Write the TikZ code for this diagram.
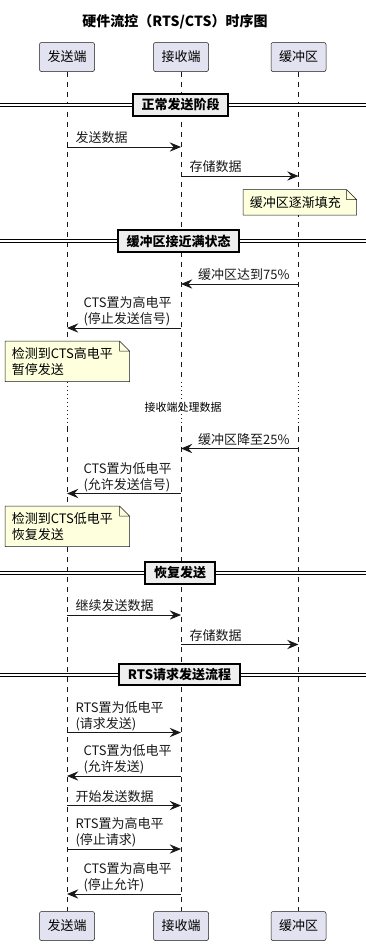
\documentclass[tikz,border=0pt]{standalone}
\usepackage{fontspec}
\setmainfont{Noto Sans CJK SC}
\usepackage{xcolor}
\usepackage{tikz}
\usetikzlibrary{arrows.meta,positioning,calc}

\definecolor{lineC}{HTML}{181818}
\definecolor{partC}{HTML}{E2E2F0}
\definecolor{noteC}{HTML}{FEFFDD}
\definecolor{sepC}{HTML}{EEEEEE}

\tikzset{
  part/.style={draw=lineC, fill=partC, line width=0.375pt, rounded corners=1.5pt,
    minimum width=41.25pt, minimum height=21.75pt, inner sep=0pt,
    font=\fontsize{9.75}{12}\selectfont},
  life/.style={lineC, line width=0.375pt, dash pattern=on 3.75pt off 3.75pt},
  lifedot/.style={lineC, line width=0.5pt, dash pattern=on 0.6pt off 2.4pt},
  msg/.style={lineC, line width=0.75pt, -{Stealth[length=8.5pt,width=7pt,inset=3pt]}},
  lbl/.style={anchor=south west, inner sep=0pt, align=left, text depth=3pt,
    font=\fontsize{9.75}{12}\selectfont},
  sepline/.style={draw=black, line width=0.75pt, double=white, double distance=1.5pt},
  sepbox/.style={draw=black, fill=sepC, line width=1.5pt, inner xsep=6.5pt,
    minimum height=15pt, font=\bfseries\fontsize{9.75}{12}\selectfont},
  notebox/.style={anchor=north west, fill=noteC, inner xsep=5pt, align=left,
    font=\fontsize{9.75}{12}\selectfont},
  notefold/.style={draw=lineC, line width=0.375pt},
}

\begin{document}
\begin{tikzpicture}[x=0.75pt,y=-0.75pt,>=Latex]
  \useasboundingbox (0,0) rectangle (366,946);

  % title and participants
  \node[font=\bfseries\fontsize{10.5}{12}\selectfont] (title) at (175,22) {硬件流控（RTS/CTS）时序图};
  \node[part] (sndT) at (67,57) {发送端};
  \node[part] (rcvT) at (181,57) {接收端};
  \node[part] (bufT) at (298.5,57) {缓冲区};
  \node[part] (sndB) at (67,926) {发送端};
  \node[part] (rcvB) at (181,926) {接收端};
  \node[part] (bufB) at (298.5,926) {缓冲区};

  % lifelines, dotted during the delay
  \coordinate (d1) at (0,382);
  \coordinate (d2) at (0,427);
  \foreach \p in {snd,rcv,buf} {
    \draw[life] (\p T) -- (\p T |- d1);
    \draw[lifedot] (\p T |- d1) -- (\p T |- d2);
    \draw[life] (\p T |- d2) -- (\p B);
  }

  % dividers
  \draw[sepline] (0,105) -- (366,105);
  \node[sepbox] (sep1) at (180.5,105) {正常发送阶段};
  \draw[sepline] (0,241) -- (366,241);
  \node[sepbox] (sep2) at (178.7,241) {缓冲区接近满状态};
  \draw[sepline] (0,573) -- (366,573);
  \node[sepbox] (sep3) at (180,573) {恢复发送};
  \draw[sepline] (0,674.5) -- (366,674.5);
  \node[sepbox] (sep4) at (179.5,674.5) {RTS请求发送流程};

  % message rows
  \coordinate (m1) at (0,147);
  \coordinate (m2) at (0,176);
  \coordinate (m3) at (0,284);
  \coordinate (m4) at (0,328);
  \coordinate (m5) at (0,448.5);
  \coordinate (m6) at (0,493.5);
  \coordinate (m7) at (0,615);
  \coordinate (m8) at (0,644.5);
  \coordinate (m9) at (0,732.5);
  \coordinate (m10) at (0,776);
  \coordinate (m11) at (0,805.5);
  \coordinate (m12) at (0,849);
  \coordinate (m13) at (0,894);

  \draw[msg] (sndT |- m1) -- node[lbl,pos=0,xshift=6pt] {发送数据} (rcvT |- m1);
  \draw[msg] (rcvT |- m2) -- node[lbl,pos=0,xshift=6pt] {存储数据} (bufT |- m2);

  \node[notebox, text width=74.75pt, minimum height=18.75pt] (nt1) at (243,189.5) {缓冲区逐渐填充};

  \draw[msg] (bufT |- m3) -- node[lbl,pos=1,xshift=12.5pt] {缓冲区达到75\%} (rcvT |- m3);
  \draw[msg] (rcvT |- m4) -- node[lbl,pos=1,xshift=12pt] {CTS置为高电平\\(停止发送信号)} (sndT |- m4);

  \node[notebox, text width=83pt, minimum height=30pt] (nt2) at (5,341) {检测到CTS高电平\\暂停发送};

  \node[font=\fontsize{8.25}{10}\selectfont] (dly) at (183,407) {接收端处理数据};

  \draw[msg] (bufT |- m5) -- node[lbl,pos=1,xshift=12.5pt] {缓冲区降至25\%} (rcvT |- m5);
  \draw[msg] (rcvT |- m6) -- node[lbl,pos=1,xshift=12pt] {CTS置为低电平\\(允许发送信号)} (sndT |- m6);

  \node[notebox, text width=83pt, minimum height=30pt] (nt3) at (5,506) {检测到CTS低电平\\恢复发送};

  \draw[msg] (sndT |- m7) -- node[lbl,pos=0,xshift=6pt] {继续发送数据} (rcvT |- m7);
  \draw[msg] (rcvT |- m8) -- node[lbl,pos=0,xshift=6pt] {存储数据} (bufT |- m8);

  \draw[msg] (sndT |- m9) -- node[lbl,pos=0,xshift=6pt] {RTS置为低电平\\(请求发送)} (rcvT |- m9);
  \draw[msg] (rcvT |- m10) -- node[lbl,pos=1,xshift=12pt] {CTS置为低电平\\(允许发送)} (sndT |- m10);
  \draw[msg] (sndT |- m11) -- node[lbl,pos=0,xshift=6pt] {开始发送数据} (rcvT |- m11);
  \draw[msg] (sndT |- m12) -- node[lbl,pos=0,xshift=6pt] {RTS置为高电平\\(停止请求)} (rcvT |- m12);
  \draw[msg] (rcvT |- m13) -- node[lbl,pos=1,xshift=12pt] {CTS置为高电平\\(停止允许)} (sndT |- m13);

  % folded corners of the notes
  \foreach \n in {nt1,nt2,nt3} {
    \fill[white] ([xshift=-7.5pt]\n.north east) -- (\n.north east) -- ([yshift=-7.5pt]\n.north east) -- cycle;
    \draw[notefold] (\n.south west) -- (\n.north west) -- ([xshift=-7.5pt]\n.north east)
      -- ([yshift=-7.5pt]\n.north east) -- (\n.south east) -- cycle
      ([xshift=-7.5pt]\n.north east) |- ([yshift=-7.5pt]\n.north east);
  }
\end{tikzpicture}
\end{document}
